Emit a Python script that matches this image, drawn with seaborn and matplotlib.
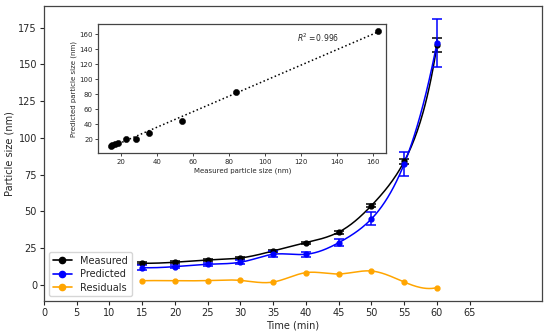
import numpy as np
import pandas as pd
import seaborn as sns
import matplotlib
matplotlib.use("Agg")
import matplotlib.pyplot as plt
from matplotlib.lines import Line2D

# data
time_min = [15, 20, 25, 30, 35, 40, 45, 50, 55, 60]
measured = [14.6, 15.3, 16.8, 18.2, 23.0, 28.6, 35.8, 53.9, 83.9, 163.0]
measured_err = [0.6, 0.6, 0.6, 0.6, 0.7, 0.8, 1.0, 1.0, 1.5, 4.7]
predicted = [11.6, 12.3, 13.9, 15.3, 20.7, 20.7, 28.6, 44.8, 82.3, 164.5]
predicted_err = [1.5, 1.2, 1.2, 1.3, 2.0, 1.8, 2.6, 4.5, 8.2, 16.4]
residuals = [2.7, 2.7, 2.8, 2.9, 1.8, 8.2, 7.3, 9.3, 1.8, -2.0]
r2_text = "$R^2 = 0.996$"


def spline(x, y, xs):
    # cubic spline with not-a-knot ends, only used to draw the smooth curves
    x = np.asarray(x, float)
    y = np.asarray(y, float)
    n = len(x)
    h = np.diff(x)
    A = np.zeros((n, n))
    r = np.zeros(n)
    A[0, 0], A[0, 1], A[0, 2] = h[1], -(h[0] + h[1]), h[0]
    A[-1, -3], A[-1, -2], A[-1, -1] = h[-1], -(h[-2] + h[-1]), h[-2]
    for i in range(1, n - 1):
        A[i, i - 1] = h[i - 1]
        A[i, i] = 2 * (h[i - 1] + h[i])
        A[i, i + 1] = h[i]
        r[i] = 3 * ((y[i + 1] - y[i]) / h[i] - (y[i] - y[i - 1]) / h[i - 1])
    c = np.linalg.solve(A, r)
    b = (y[1:] - y[:-1]) / h - h * (2 * c[:-1] + c[1:]) / 3
    d = (c[1:] - c[:-1]) / (3 * h)
    idx = np.clip(np.searchsorted(x, xs) - 1, 0, n - 2)
    dx = xs - x[idx]
    return y[idx] + b[idx] * dx + c[idx] * dx ** 2 + d[idx] * dx ** 3


sns.set_style("ticks")
plt.rcParams["font.family"] = ["DejaVu Sans"]

fig = plt.figure(figsize=(5.5, 3.34), dpi=100)
ax = fig.add_axes([0.08, 0.098, 0.905, 0.885])

# (name, values, errors, colour, smooth in log space)
series = [
    ("Measured", measured, measured_err, "black", True),
    ("Predicted", predicted, predicted_err, "blue", True),
    ("Residuals", residuals, None, "orange", False),
]

xs = np.linspace(time_min[0], time_min[-1], 300)
handles = []
for name, vals, err, col, use_log in series:
    if use_log:
        curve = np.exp(spline(time_min, np.log(vals), xs))
    else:
        curve = spline(time_min, vals, xs)
    smooth = pd.DataFrame({"t": xs, "v": curve})
    sns.lineplot(data=smooth, x="t", y="v", color=col, linewidth=1.1, ax=ax)
    ax.errorbar(time_min, vals, yerr=err, fmt="o", color=col, markersize=3.5,
                capsize=3.5, elinewidth=1.1, capthick=1.1)
    handles.append(Line2D([], [], color=col, marker="o", markersize=4.5,
                          linewidth=1.2, label=name))

ax.set_xlim(0, 76)
ax.set_ylim(-11.3, 190)
ax.set_xticks(range(0, 70, 5))
ax.set_yticks(range(0, 200, 25))
ax.set_xlabel("Time (min)", fontsize=7, labelpad=1.5)
ax.set_ylabel("Particle size (nm)", fontsize=7, labelpad=3)
ax.tick_params(labelsize=7, length=3, width=0.8, pad=2)
for sp in ax.spines.values():
    sp.set_linewidth(0.9)
    sp.set_color("#444444")
ax.legend(handles=handles, loc="lower left", fontsize=7, frameon=True,
          handlelength=2, borderpad=0.4, labelspacing=0.35)

# inset: predicted vs measured
inset = fig.add_axes([0.179, 0.541, 0.523, 0.386])
fit = np.polyfit(measured, predicted, 1)
fit_df = pd.DataFrame({"m": [min(measured), max(measured)]})
fit_df["p"] = np.polyval(fit, fit_df["m"])
sns.lineplot(data=fit_df, x="m", y="p", color="black", linestyle=":",
             linewidth=1.1, ax=inset)
sns.scatterplot(x=measured, y=predicted, color="black", s=20,
                edgecolor="black", ax=inset, zorder=3)
inset.text(118, 150, r2_text, fontsize=5.5)
inset.set_xlim(7.6, 167.4)
inset.set_ylim(1.4, 172.9)
inset.set_xticks(range(20, 180, 20))
inset.set_yticks(range(20, 180, 20))
inset.set_xlabel("Measured particle size (nm)", fontsize=5, labelpad=2)
inset.set_ylabel("Predicted particle size (nm)", fontsize=5, labelpad=2)
inset.tick_params(labelsize=5, length=2, width=0.6, pad=2)
for sp in inset.spines.values():
    sp.set_linewidth(0.9)
    sp.set_color("#444444")

fig.savefig("out.png", dpi=100)
